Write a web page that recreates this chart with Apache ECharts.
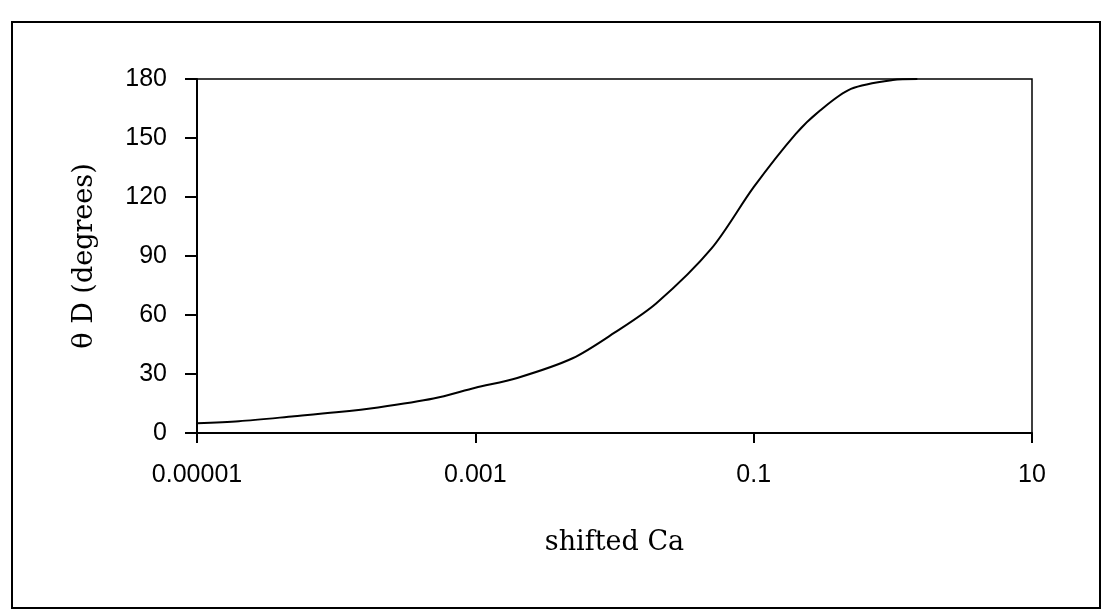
<!DOCTYPE html>
<html>
<head>
<meta charset="utf-8">
<script src="https://cdn.jsdelivr.net/npm/echarts@6/dist/echarts.min.js"></script>
<style>
  html, body { margin: 0; padding: 0; background: #fff; }
  #chart { width: 1105px; height: 614px; }
</style>
</head>
<body>
<div id="chart"></div>
<script>
// shifted Ca (log scale) vs theta_D in degrees
const caValues = [0.00001, 0.00002, 0.00005, 0.0001, 0.0002, 0.0005, 0.001, 0.002, 0.005, 0.01, 0.02, 0.05, 0.1, 0.2, 0.3, 0.5, 1, 1.5];
const thetaValues = [5, 6, 8.5, 10.5, 13, 17.5, 23, 28, 38, 51, 66, 94, 125, 152, 164, 175, 179.5, 180];
const xTickLabels = {'-5': '0.00001', '-3': '0.001', '-1': '0.1', '1': '10'};

// the x axis runs over decades (log10 of shifted Ca)
let points = caValues.map((c, i) => [Math.log10(c), thetaValues[i]]);

let myChart = echarts.init(document.getElementById('chart'));
myChart.setOption({
    animation: false,
    backgroundColor: '#fff',
    graphic: [{
        type: 'rect',
        shape: {x: 12, y: 22, width: 1088, height: 586},
        style: {fill: 'none', stroke: '#000', lineWidth: 2}
    }],
    grid: {
        left: 197, right: 73, top: 79, bottom: 181,
        show: true, borderColor: '#000', borderWidth: 1.5, backgroundColor: '#fff'
    },
    xAxis: {
        type: 'value',
        min: -5,
        max: 1,
        interval: 2,
        name: 'shifted Ca',
        nameLocation: 'middle',
        nameGap: 96,
        nameTextStyle: {fontFamily: 'DejaVu Serif', fontSize: 27, color: '#000'},
        axisLine: {onZero: false, lineStyle: {color: '#000', width: 2}},
        axisTick: {show: true, inside: false, length: 10, lineStyle: {color: '#000', width: 2}},
        splitLine: {show: false},
        axisLabel: {
            color: '#000', fontFamily: 'Liberation Sans', fontSize: 25, margin: 30,
            formatter: v => xTickLabels[String(Math.round(v))] || ''
        }
    },
    yAxis: {
        type: 'value',
        min: 0,
        max: 180,
        interval: 30,
        name: 'θ D (degrees)',
        nameLocation: 'middle',
        nameRotate: 90,
        nameGap: 99,
        nameTextStyle: {fontFamily: 'DejaVu Serif', fontSize: 27, color: '#000'},
        axisLine: {show: true, onZero: false, lineStyle: {color: '#000', width: 2}},
        axisTick: {show: true, inside: false, length: 12, lineStyle: {color: '#000', width: 2}},
        splitLine: {show: false},
        axisLabel: {
            color: '#000', fontFamily: 'Liberation Sans', fontSize: 25, margin: 30
        }
    },
    series: [{
        type: 'line',
        data: points,
        smooth: 0.3,
        showSymbol: false,
        lineStyle: {color: '#000', width: 2}
    }]
});
</script>
</body>
</html>
